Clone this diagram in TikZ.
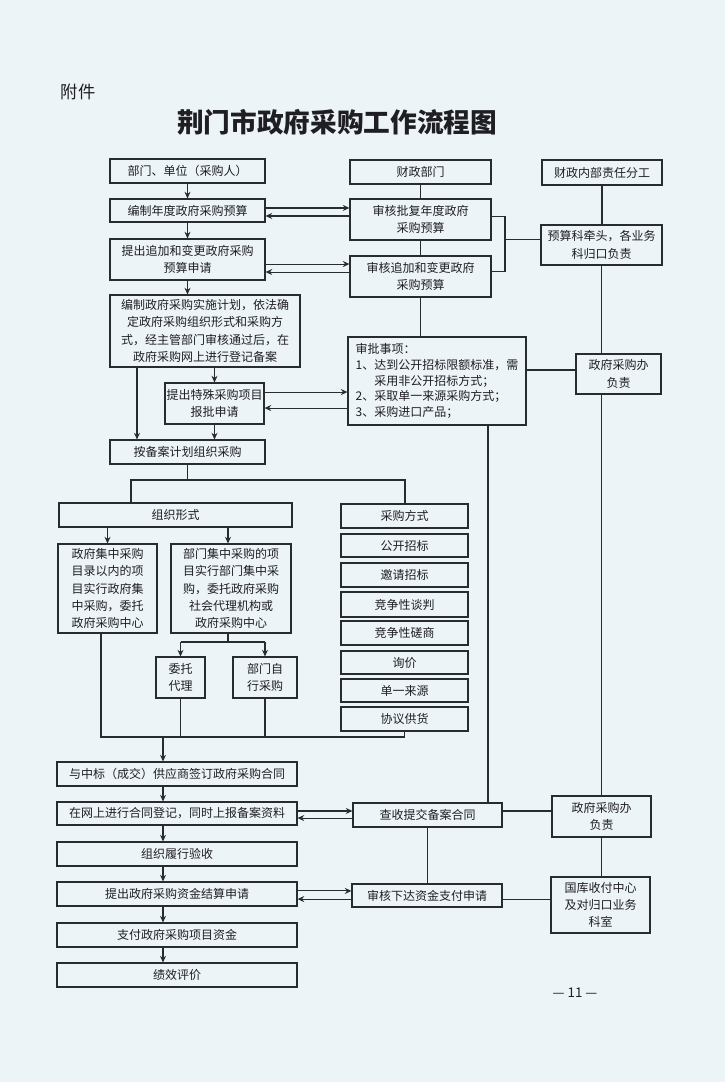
\documentclass[tikz,border=0pt]{standalone}
\usepackage{fontspec}
\setmainfont{Noto Sans CJK SC}
\usetikzlibrary{arrows.meta}
\definecolor{bgc}{RGB}{237,244,247}
\definecolor{linec}{RGB}{40,44,50}
\definecolor{txtc}{RGB}{30,30,35}
\tikzset{
  box/.style={draw=linec, line width=0.8pt, inner sep=0pt, align=center,
    text=txtc, font=\fontsize{9}{13}\selectfont},
  ln/.style={draw=linec, line width=0.8pt},
  arr/.style={ln, -{Stealth[length=5pt,width=4.5pt]}},
}
% [opts]{name}{x1}{y1}{x2}{y2}{text}
\newcommand{\bx}[7][]{%
  \pgfmathsetmacro\bxcx{(#3+#5)/2}%
  \pgfmathsetmacro\bxcy{(#4+#6)/2}%
  \pgfmathsetmacro\bxw{(#5-#3)*0.75}%
  \pgfmathsetmacro\bxh{(#6-#4)*0.75}%
  \node[box, minimum width=\bxw pt, minimum height=\bxh pt, #1] (#2) at (\bxcx,\bxcy) {#7};}
\begin{document}
\begin{tikzpicture}[x=0.75pt,y=-0.75pt]
\fill[bgc] (0,0) rectangle (725,1082);
\useasboundingbox (0,0) rectangle (725,1082);

% titles
\node[text=txtc, font=\fontsize{13}{15}\selectfont] (fj) at (78,92) {附件};
\node[text=txtc, font=\bfseries\fontsize{20}{24}\selectfont] (title) at (337,122) {荆门市政府采购工作流程图};

% left column
\bx{n1}{110}{159}{265}{183}{部门、单位（采购人）}
\bx{n2}{110}{199}{265}{222}{编制年度政府采购预算}
\bx{n3}{110}{239}{265}{280}{提出追加和变更政府采购\\预算申请}
\bx{n4}{110}{295}{300}{367}{编制政府采购实施计划，依法确\\定政府采购组织形式和采购方\\式，经主管部门审核通过后，在\\政府采购网上进行登记备案}
\bx{n5}{165}{383}{264}{424}{提出特殊采购项目\\报批申请}
\bx{n6}{110}{440}{265}{464}{按备案计划组织采购}

% middle column
\bx{m1}{350}{160}{491}{184}{财政部门}
\bx{m2}{350}{199}{491}{240}{审核批复年度政府\\采购预算}
\bx{m3}{350}{256}{491}{297}{审核追加和变更政府\\采购预算}
\bx[font=\fontsize{9}{11.8}\selectfont, align=left]{m4}{348}{337}{526}{425}{审批事项：\\1、达到公开招标限额标准，需\\\phantom{1、}采用非公开招标方式；\\2、采取单一来源采购方式；\\3、采购进口产品；}

% right column
\bx{r1}{542}{160}{662}{185}{财政内部责任分工}
\bx{r2}{541}{225}{662}{265}{预算科牵头，各业务\\科归口负责}
\bx{r3}{576}{354}{661}{394}{政府采购办\\负责}
\bx{r4}{552}{796}{651}{837}{政府采购办\\负责}
\bx{r5}{551}{877}{650}{933}{国库收付中心\\及对归口业务\\科室}

% organisation
\bx{o1}{59}{503}{292}{527}{组织形式}
\bx{o2}{58}{544}{157}{633}{政府集中采购\\目录以内的项\\目实行政府集\\中采购，委托\\政府采购中心}
\bx{o3}{171}{544}{291}{633}{部门集中采购的项\\目实行部门集中采\\购，委托政府采购\\社会代理机构或\\政府采购中心}
\bx{o4}{156}{657}{205}{698}{委托\\代理}
\bx{o5}{233}{657}{297}{698}{部门自\\行采购}

% methods
\bx{p1}{341}{504}{468}{528}{采购方式}
\bx{p2}{341}{534}{468}{557}{公开招标}
\bx{p3}{341}{563}{468}{587}{邀请招标}
\bx{p4}{341}{592}{468}{617}{竞争性谈判}
\bx{p5}{341}{621}{468}{645}{竞争性磋商}
\bx{p6}{341}{651}{468}{674}{询价}
\bx{p7}{341}{679}{468}{702}{单一来源}
\bx{p8}{341}{707}{468}{731}{协议供货}

% lower chain
\bx{l1}{57}{762}{297}{786}{与中标（成交）供应商签订政府采购合同}
\bx{l2}{57}{802}{297}{825}{在网上进行合同登记，同时上报备案资料}
\bx{l3}{57}{842}{297}{866}{组织履行验收}
\bx{l4}{57}{882}{297}{906}{提出政府采购资金结算申请}
\bx{l5}{57}{923}{297}{947}{支付政府采购项目资金}
\bx{l6}{57}{963}{297}{987}{绩效评价}

\bx{q1}{353}{803}{502}{827}{查收提交备案合同}
\bx{q2}{352}{884}{502}{907}{审核下达资金支付申请}

\node[text=txtc, font=\fontsize{10}{12}\selectfont] (pg) at (575,993) {— 11 —};

% helper coordinates
\coordinate (c137) at (137,0);
\coordinate (bk) at (505,0);
\coordinate (c488) at (488,0);
\coordinate (sL) at (131,480);
\coordinate (sR) at (405,480);
\coordinate (t) at (0,642);
\coordinate (bot) at (0,737);
\coordinate (c101) at (101,0);
\coordinate (c163) at (163,0);
\coordinate (c228) at (228,0);

% left chain arrows
\draw[arr] (n1.south) -- (n2.north);
\draw[arr] (n2.south) -- (n3.north);
\draw[arr] (n3.south) -- (n3.south |- n4.north);
\draw[arr] (n5.north |- n4.south) -- (n5.north);
\draw[arr] (n4.south -| c137) -- (n6.north -| c137);
\draw[arr] (n5.south) -- (n5.south |- n6.north);

% double arrows
\draw[arr] ([yshift=1.9pt]n2.east) -- ([yshift=1.9pt]n2.east -| m2.west);
\draw[arr] ([yshift=-4.1pt]n2.east -| m2.west) -- ([yshift=-4.1pt]n2.east);
\draw[arr] ([yshift=-3.4pt]n3.east) -- ([yshift=-3.4pt]n3.east -| m3.west);
\draw[arr] ([yshift=-9.4pt]n3.east -| m3.west) -- ([yshift=-9.4pt]n3.east);
\draw[arr] ([yshift=8.6pt]n5.east) -- ([yshift=8.6pt]n5.east -| m4.west);
\draw[arr] ([yshift=-3.4pt]n5.east -| m4.west) -- ([yshift=-3.4pt]n5.east);
\draw[arr] ([yshift=1.9pt]l2.east) -- ([yshift=1.9pt]l2.east -| q1.west);
\draw[arr] ([yshift=-3.4pt]l2.east -| q1.west) -- ([yshift=-3.4pt]l2.east);
\draw[arr] ([yshift=2.3pt]l4.east) -- ([yshift=2.3pt]l4.east -| q2.west);
\draw[arr] ([yshift=-3.8pt]l4.east -| q2.west) -- ([yshift=-3.8pt]l4.east);

% middle column lines
\draw[ln] (m1.south) -- (m2.north);
\draw[ln] (m2.south) -- (m3.north);
\draw[ln] (m3.south) -- (m3.south |- m4.north);
\draw[ln] ([yshift=2pt]m2.east) -- ([yshift=2pt]m2.east -| bk) -- ([yshift=4pt]m3.east -| bk) -- ([yshift=4pt]m3.east);
\draw[ln] ([yshift=4pt]r2.west -| bk) -- ([yshift=4pt]r2.west);
\draw[ln] ([yshift=3pt]r3.west -| m4.east) -- ([yshift=3pt]r3.west);
\draw[ln] (m4.south -| c488) -- (q1.north -| c488);
\draw[ln] ([yshift=3pt]q1.east) -- ([yshift=3pt]q1.east -| r4.west);
\draw[ln] (q1.south) -- (q1.south |- q2.north);
\draw[ln] ([yshift=-3pt]q2.east) -- ([yshift=-3pt]q2.east -| r5.west);

% right column lines
\draw[ln] (r1.south) -- (r1.south |- r2.north);
\draw[ln] (r2.south) -- (r2.south |- r3.north);
\draw[ln] (r2.south |- r3.south) -- (r2.south |- r4.north);
\draw[ln] (r4.south) -- (r4.south |- r5.north);

% split to organisation / methods
\draw[ln] (n6.south) -- (n6.south |- sL);
\draw[ln] (sL |- o1.north) -- (sL) -- (sR) -- (sR |- p1.north);
\draw[arr] (o2.north |- o1.south) -- (o2.north);
\draw[arr] (c228 |- o1.south) -- (c228 |- o3.north);
\draw[ln] (c228 |- o3.south) -- (c228 |- t);
\draw[ln] (o4.north |- t) -- (o5.north |- t);
\draw[arr] (o4.north |- t) -- (o4.north);
\draw[arr] (o5.north |- t) -- (o5.north);

% collector
\draw[ln] (c101 |- o2.south) -- (c101 |- bot) -- (p8.south |- bot) -- (p8.south);
\draw[ln] (o4.south) -- (o4.south |- bot);
\draw[ln] (o5.south) -- (o5.south |- bot);
\draw[arr] (c163 |- bot) -- (c163 |- l1.north);

% lower chain arrows
\draw[arr] (c163 |- l1.south) -- (c163 |- l2.north);
\draw[arr] (c163 |- l2.south) -- (c163 |- l3.north);
\draw[arr] (c163 |- l3.south) -- (c163 |- l4.north);
\draw[arr] (c163 |- l4.south) -- (c163 |- l5.north);
\draw[arr] (c163 |- l5.south) -- (c163 |- l6.north);
\end{tikzpicture}
\end{document}
